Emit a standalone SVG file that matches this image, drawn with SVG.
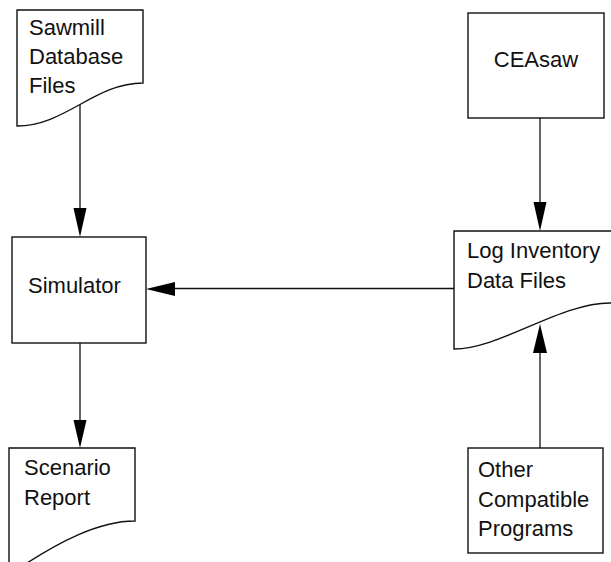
<svg xmlns="http://www.w3.org/2000/svg" width="611" height="562" viewBox="0 0 611 562">
<defs>
<style>
.shape{fill:#fff;stroke:#111;stroke-width:1.4;}
.line{fill:none;stroke:#111;stroke-width:1.3;}
.head{fill:#000;stroke:none;}
text{font-family:"Liberation Sans",Arial,sans-serif;font-size:22px;fill:#111;}
</style>
</defs>
<rect width="611" height="562" fill="#fff"/>
<g id="connectors">
<line class="line" x1="80" y1="104" x2="80" y2="212"/>
<polygon class="head" points="73.5,208 86.5,208 80,237"/>
<line class="line" x1="454" y1="288.5" x2="170" y2="288.5"/>
<polygon class="head" points="175,282 175,296 146,289"/>
<line class="line" x1="540" y1="118" x2="540" y2="205"/>
<polygon class="head" points="533.5,202 546.5,202 540,231"/>
<line class="line" x1="540" y1="448" x2="540" y2="348"/>
<polygon class="head" points="533,353 547,353 540,324"/>
<line class="line" x1="80" y1="343" x2="80" y2="424"/>
<polygon class="head" points="73.5,420 86.5,420 80,448"/>
</g>
<g id="sawmill">
<path class="shape" d="M17,10 H143 V83 C95,83 65,126 17,126 Z"/>
<text x="29" y="35">Sawmill</text>
<text x="29" y="64">Database</text>
<text x="29" y="93">Files</text>
</g>
<g id="ceasaw">
<rect class="shape" x="468" y="13" width="136" height="105"/>
<text x="536" y="67" text-anchor="middle">CEAsaw</text>
</g>
<g id="simulator">
<rect class="shape" x="12" y="237" width="134" height="106"/>
<text x="28" y="293">Simulator</text>
</g>
<g id="loginventory">
<path class="shape" d="M454,231 H612 V303 H610 C560,303 500,349 454,349 Z"/>
<text x="467" y="258">Log Inventory</text>
<text x="467" y="288">Data Files</text>
</g>
<g id="scenario">
<path class="shape" d="M9,448 H135 V521 C100,521 60,540 9,575 Z"/>
<text x="24" y="475">Scenario</text>
<text x="24" y="505">Report</text>
</g>
<g id="other">
<rect class="shape" x="468" y="448" width="135" height="105"/>
<text x="478" y="477">Other</text>
<text x="478" y="507">Compatible</text>
<text x="478" y="536">Programs</text>
</g>
</svg>
